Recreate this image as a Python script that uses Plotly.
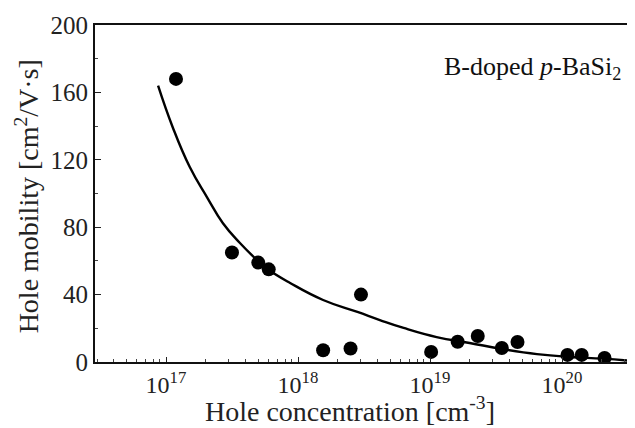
import plotly.graph_objects as go

# data points (hole concentration cm^-3, hole mobility cm2/Vs)
conc = [1.19e17, 3.16e17, 5.0e17, 6.0e17, 1.55e18, 2.5e18, 3.0e18, 1.02e19,
        1.62e19, 2.3e19, 3.5e19, 4.6e19, 1.1e20, 1.41e20, 2.1e20]
mobility = [168, 65, 59, 55, 7, 8, 40, 6, 12, 15.4, 8.3, 11.9, 4.2, 4.2, 2.4]

# fitted curve
fit_log_conc = [16.94, 17.05, 17.18, 17.31, 17.43, 17.56, 17.69, 17.78, 17.94, 18.19,
                18.45, 18.62, 18.80, 19.05, 19.30, 19.55, 19.81, 20.06, 20.31, 20.55]
fit_mobility = [164, 139.5, 115.7, 97.9, 82.5, 70.6, 60.5, 54.6, 46.9, 36.8,
                29.7, 24.9, 20.2, 14.8, 11.3, 7.7, 4.7, 3.0, 2.0, 0.5]
fit_conc = [10.0 ** v for v in fit_log_conc]

major_exp = [17, 18, 19, 20]
major_vals = [10.0 ** e for e in major_exp]
major_text = ["10<sup>%d</sup>" % e for e in major_exp]
minor_vals = [float(m) * 10.0 ** e for e in [16, 17, 18, 19, 20] for m in range(2, 10)]

y_ticks = [0, 40, 80, 120, 160, 200]

FONT = "Liberation Serif"

fig = go.Figure()
fig.add_trace(go.Scatter(x=fit_conc, y=fit_mobility, mode="lines",
                         line=dict(color="black", width=2.4, shape="spline", smoothing=1.3),
                         showlegend=False, hoverinfo="skip"))
fig.add_trace(go.Scatter(x=conc, y=mobility, mode="markers",
                         marker=dict(color="black", size=14),
                         showlegend=False))

fig.update_xaxes(type="log", range=[16.462, 20.553],
                 tickvals=major_vals, ticktext=major_text,
                 ticks="inside", ticklen=5, tickwidth=1, tickcolor="#222",
                 minor=dict(tickvals=minor_vals, ticks="inside", ticklen=3, tickcolor="#444"),
                 showline=True, linecolor="#111", linewidth=2, mirror=True,
                 showgrid=False, zeroline=False,
                 tickfont=dict(family=FONT, size=24, color="#222"))
fig.update_yaxes(range=[0, 200], tickvals=y_ticks,
                 ticks="inside", ticklen=6, tickwidth=1, tickcolor="#222",
                 minor=dict(dtick=20, ticks="inside", ticklen=3, tickcolor="#444"),
                 showline=True, linecolor="#111", linewidth=2,
                 showgrid=False, zeroline=False,
                 tickfont=dict(family=FONT, size=25, color="#222"))

fig.add_annotation(text="B-doped <i>p</i>-BaSi<sub>2</sub>", xref="paper", yref="paper",
                   x=0.978, y=0.872, xanchor="right", yanchor="middle", showarrow=False,
                   font=dict(family=FONT, size=26, color="#111"))
fig.add_annotation(text="Hole concentration [cm<sup>-3</sup>]", xref="paper", yref="paper",
                   x=0.472, y=-0.142, xanchor="center", yanchor="middle", showarrow=False,
                   font=dict(family=FONT, size=28, color="#222"))
fig.add_annotation(text="Hole mobility [cm<sup>2</sup>/V·s]", xref="paper", yref="paper",
                   x=-0.125, y=0.49, xanchor="center", yanchor="middle", showarrow=False,
                   textangle=-90, font=dict(family=FONT, size=28, color="#222"))

# page body adds an 8px offset; figure is sized to fill the remaining window
fig.update_layout(width=627, height=420, margin=dict(l=87, r=0, t=17, b=66),
                  paper_bgcolor="white", plot_bgcolor="white")
fig.write_html("out.html")
